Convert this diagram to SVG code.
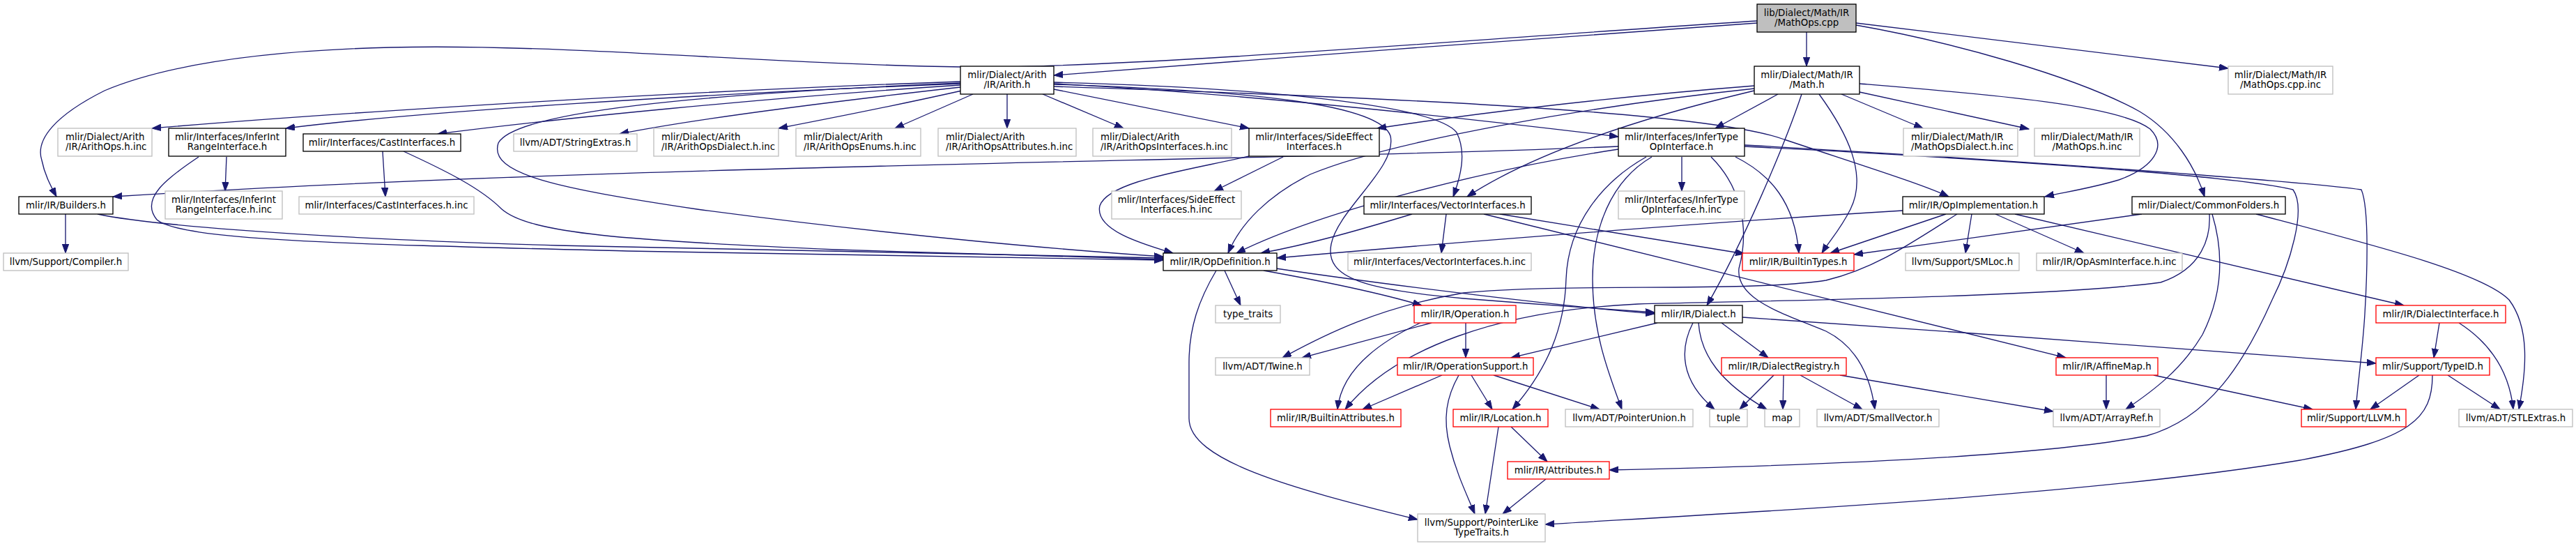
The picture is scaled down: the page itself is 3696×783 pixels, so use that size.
<svg xmlns="http://www.w3.org/2000/svg" width="3696" height="783" viewBox="0 0 3696 783">
<style>
.node rect{stroke-width:1.33}
.doc{fill:#fff;stroke:#000}
.undoc{fill:#fff;stroke:#bfbfbf}
.trunc{fill:#fff;stroke:#ff0000}
.main{fill:#bfbfbf;stroke:#000}
text{font-family:"DejaVu Sans","Liberation Sans",sans-serif;font-size:13.33px;fill:#000}
.c{text-anchor:middle}
.l{text-anchor:start}
#edges path{fill:none;stroke:#191970;stroke-width:1.33;marker-end:url(#arr)}
</style>
<defs>
<marker id="arr" markerUnits="userSpaceOnUse" markerWidth="14" markerHeight="10" refX="13" refY="4.7" orient="auto">
<path d="M0,0 L13,4.7 L0,9.4 z" fill="#191970" stroke="#191970" stroke-width="1"/>
</marker>
</defs>
<rect x="0" y="0" width="3696" height="783" fill="#fff"/>
<g id="edges">
<path d="M2592,46 L2592,95"/>
<path d="M2521,33 C2250,52 1800,85 1512,108"/>
<path d="M2521,30 C2200,50 1600,100 1380,96 C1100,92 800,62 560,68 C400,72 250,88 150,130 C80,165 50,200 60,230 C64,250 72,265 81,282"/>
<path d="M2663,33 L3197,98"/>
<path d="M2663,36 C2800,60 2980,110 3070,160 C3120,190 3150,240 3163,282"/>
<path d="M2668,120 C2850,135 3040,150 3085,185 C3110,210 3090,240 3040,258 C3000,270 2960,276 2934,282"/>
<path d="M2642,135 L2759,184"/>
<path d="M2668,132 L2911,185"/>
<path d="M2610,135 C2650,190 2680,250 2655,300 C2640,330 2625,345 2614,363"/>
<path d="M2585,135 C2560,210 2500,350 2449,438"/>
<path d="M2551,135 L2461,184"/>
<path d="M2517,123 C2300,140 2100,165 1976,184"/>
<path d="M2517,130 C2350,170 2200,220 2105,282"/>
<path d="M2517,127 C2300,150 2000,200 1880,250 C1820,280 1780,320 1762,363"/>
<path d="M1378,117 C1000,130 500,160 218,184"/>
<path d="M1378,120 C1000,135 600,160 410,184"/>
<path d="M1378,122 C1100,140 800,170 628,192"/>
<path d="M1378,125 C1200,145 1000,170 889,192"/>
<path d="M1380,130 C1300,148 1200,168 1117,184"/>
<path d="M1396,135 L1284,184"/>
<path d="M1445,135 L1445,184"/>
<path d="M1496,135 L1612,184"/>
<path d="M1512,128 L1792,184"/>
<path d="M1512,120 C1800,135 2150,175 2322,196"/>
<path d="M1512,118 C1800,125 2060,150 2090,190 C2105,220 2095,255 2085,282"/>
<path d="M1512,124 C2000,140 2450,160 2560,200 C2680,240 2760,265 2796,282"/>
<path d="M1512,121 C1800,130 1980,150 1995,195 C2005,240 1920,300 1910,350 C1900,400 1960,415 2100,428 C2250,440 2330,445 2374,448"/>
<path d="M1378,119 C1000,135 740,160 715,205 C700,250 800,270 1000,300 C1300,340 1550,360 1669,368"/>
<path d="M1792,224 C1700,245 1590,260 1578,295 C1570,330 1640,350 1683,363"/>
<path d="M1841,225 L1742,274"/>
<path d="M325,225 L323,274"/>
<path d="M285,225 C240,255 200,285 225,315 C260,345 500,350 900,360 C1300,368 1550,372 1669,373"/>
<path d="M549,217 L553,282"/>
<path d="M579,217 C640,245 690,270 720,300 C760,335 900,345 1200,358 C1450,366 1600,370 1669,372"/>
<path d="M94,307 L94,363"/>
<path d="M140,307 C200,320 400,340 800,352 C1200,362 1550,368 1669,370"/>
<path d="M1757,388 L1780,438"/>
<path d="M1745,388 C1720,430 1706,470 1706,520 L1706,600 C1706,660 1850,700 2034,745"/>
<path d="M1813,388 C1880,400 1980,420 2040,438"/>
<path d="M1831,385 C2000,410 2250,440 2374,450"/>
<path d="M2103,463 L2103,513"/>
<path d="M2054,463 L1868,513"/>
<path d="M2038,463 C1980,490 1925,530 1919,587"/>
<path d="M2069,538 L1955,587"/>
<path d="M2111,538 L2141,587"/>
<path d="M2143,538 L2295,587"/>
<path d="M2093,538 C2075,570 2070,600 2080,640 C2090,680 2105,710 2116,737"/>
<path d="M2168,612 L2220,662"/>
<path d="M2150,612 L2131,737"/>
<path d="M2218,687 L2156,737"/>
<path d="M2378,463 L2168,513"/>
<path d="M2429,463 C2410,500 2410,545 2460,587"/>
<path d="M2437,463 C2440,510 2470,550 2535,587"/>
<path d="M2470,463 L2537,513"/>
<path d="M2500,455 C2800,475 3200,505 3409,521"/>
<path d="M2545,538 L2496,587"/>
<path d="M2559,538 L2558,587"/>
<path d="M2583,538 L2672,587"/>
<path d="M2640,538 L2946,590"/>
<path d="M3022,538 L3022,587"/>
<path d="M3090,538 L3318,587"/>
<path d="M3500,463 L3492,513"/>
<path d="M3528,463 C3570,490 3600,530 3606,587"/>
<path d="M3471,538 L3401,587"/>
<path d="M3512,538 L3587,587"/>
<path d="M3490,538 C3490,600 3460,630 3300,660 C3000,710 2500,735 2217,752"/>
<path d="M2792,307 L2626,363"/>
<path d="M2829,307 L2820,363"/>
<path d="M2863,307 L2990,363"/>
<path d="M2891,307 L3449,438"/>
<path d="M2730,302 C2400,322 2000,355 1832,370"/>
<path d="M2808,307 C2740,350 2690,385 2620,402 C2500,420 2250,405 2100,420 C1980,440 1900,480 1840,513"/>
<path d="M3073,307 L2660,365"/>
<path d="M3170,307 C3172,340 3160,385 3100,405 C2950,425 2600,430 2350,436 C2150,445 2000,500 1930,587"/>
<path d="M3174,307 C3190,360 3190,420 3160,480 C3130,530 3090,560 3050,587"/>
<path d="M3237,307 C3400,350 3560,390 3600,430 C3630,470 3625,530 3614,587"/>
<path d="M2413,225 L2413,274"/>
<path d="M2322,210 C1800,232 900,235 162,282"/>
<path d="M2322,214 C2150,240 1900,300 1774,363"/>
<path d="M2490,225 C2540,250 2575,290 2581,363"/>
<path d="M2455,225 C2500,270 2510,330 2495,385 C2490,430 2560,450 2620,475 C2670,500 2685,550 2690,587"/>
<path d="M2362,225 C2300,260 2250,320 2247,400 C2245,470 2220,530 2170,587"/>
<path d="M2370,225 C2310,260 2285,330 2285,400 C2285,480 2310,540 2327,587"/>
<path d="M2503,210 C2800,225 3200,250 3290,272 C3310,300 3285,380 3260,430 C3220,520 3170,600 3080,625 C2900,660 2500,670 2309,674"/>
<path d="M2503,208 C2900,230 3300,260 3388,272 C3400,300 3396,400 3393,450 C3390,500 3383,550 3380,587"/>
<path d="M2075,307 L2068,363"/>
<path d="M2026,307 C1950,330 1880,350 1809,363"/>
<path d="M2152,307 L2503,364"/>
<path d="M2129,307 L2964,513"/>
</g>
<g id="n_mathops_cpp" class="node"><rect class="main" x="2521" y="6" width="142" height="40"/><text class="c" x="2592" y="23">lib/Dialect/Math/IR</text><text class="c" x="2592" y="37">/MathOps.cpp</text></g>
<g id="n_arith_h" class="node"><rect class="doc" x="1378" y="95" width="134" height="40"/><text class="c" x="1445" y="112">mlir/Dialect/Arith</text><text class="c" x="1445" y="126">/IR/Arith.h</text></g>
<g id="n_math_h" class="node"><rect class="doc" x="2517" y="95" width="151" height="40"/><text class="c" x="2592.5" y="112">mlir/Dialect/Math/IR</text><text class="c" x="2592.5" y="126">/Math.h</text></g>
<g id="n_mathops_cpp_inc" class="node"><rect class="undoc" x="3197" y="95" width="150" height="40"/><text class="c" x="3272" y="112">mlir/Dialect/Math/IR</text><text class="c" x="3272" y="126">/MathOps.cpp.inc</text></g>
<g id="n_builders" class="node"><rect class="doc" x="27" y="282" width="135" height="25"/><text class="c" x="94.5" y="299">mlir/IR/Builders.h</text></g>
<g id="n_compiler" class="node"><rect class="undoc" x="5" y="363" width="179" height="25"/><text class="c" x="94.5" y="380">llvm/Support/Compiler.h</text></g>
<g id="n_arithops_inc" class="node"><rect class="undoc" x="83" y="184" width="135" height="40"/><text class="l" x="94" y="201">mlir/Dialect/Arith</text><text class="l" x="94" y="215">/IR/ArithOps.h.inc</text></g>
<g id="n_inferintrange" class="node"><rect class="doc" x="242" y="184" width="168" height="40"/><text class="c" x="326" y="201">mlir/Interfaces/InferInt</text><text class="c" x="326" y="215">RangeInterface.h</text></g>
<g id="n_inferintrange_inc" class="node"><rect class="undoc" x="237" y="274" width="168" height="40"/><text class="c" x="321" y="291">mlir/Interfaces/InferInt</text><text class="c" x="321" y="305">RangeInterface.h.inc</text></g>
<g id="n_cast" class="node"><rect class="doc" x="435" y="192" width="226" height="25"/><text class="c" x="548" y="209">mlir/Interfaces/CastInterfaces.h</text></g>
<g id="n_cast_inc" class="node"><rect class="undoc" x="429" y="282" width="251" height="25"/><text class="c" x="554.5" y="299">mlir/Interfaces/CastInterfaces.h.inc</text></g>
<g id="n_stringextras" class="node"><rect class="undoc" x="737" y="192" width="177" height="25"/><text class="c" x="825.5" y="209">llvm/ADT/StringExtras.h</text></g>
<g id="n_arithopsdialect" class="node"><rect class="undoc" x="938" y="184" width="179" height="40"/><text class="l" x="949" y="201">mlir/Dialect/Arith</text><text class="l" x="949" y="215">/IR/ArithOpsDialect.h.inc</text></g>
<g id="n_arithopsenums" class="node"><rect class="undoc" x="1142" y="184" width="179" height="40"/><text class="l" x="1153" y="201">mlir/Dialect/Arith</text><text class="l" x="1153" y="215">/IR/ArithOpsEnums.h.inc</text></g>
<g id="n_arithopsattrs" class="node"><rect class="undoc" x="1346" y="184" width="198" height="40"/><text class="l" x="1357" y="201">mlir/Dialect/Arith</text><text class="l" x="1357" y="215">/IR/ArithOpsAttributes.h.inc</text></g>
<g id="n_arithopsifaces" class="node"><rect class="undoc" x="1568" y="184" width="199" height="40"/><text class="l" x="1579" y="201">mlir/Dialect/Arith</text><text class="l" x="1579" y="215">/IR/ArithOpsInterfaces.h.inc</text></g>
<g id="n_sideeffect" class="node"><rect class="doc" x="1792" y="184" width="187" height="40"/><text class="c" x="1885.5" y="201">mlir/Interfaces/SideEffect</text><text class="c" x="1885.5" y="215">Interfaces.h</text></g>
<g id="n_sideeffect_inc" class="node"><rect class="undoc" x="1595" y="274" width="186" height="40"/><text class="c" x="1688" y="291">mlir/Interfaces/SideEffect</text><text class="c" x="1688" y="305">Interfaces.h.inc</text></g>
<g id="n_opdef" class="node"><rect class="doc" x="1669" y="363" width="163" height="25"/><text class="c" x="1750.5" y="380">mlir/IR/OpDefinition.h</text></g>
<g id="n_infertype" class="node"><rect class="doc" x="2322" y="184" width="181" height="40"/><text class="c" x="2412.5" y="201">mlir/Interfaces/InferType</text><text class="c" x="2412.5" y="215">OpInterface.h</text></g>
<g id="n_infertype_inc" class="node"><rect class="undoc" x="2322" y="274" width="181" height="40"/><text class="c" x="2412.5" y="291">mlir/Interfaces/InferType</text><text class="c" x="2412.5" y="305">OpInterface.h.inc</text></g>
<g id="n_vector" class="node"><rect class="doc" x="1957" y="282" width="240" height="25"/><text class="c" x="2077" y="299">mlir/Interfaces/VectorInterfaces.h</text></g>
<g id="n_vector_inc" class="node"><rect class="undoc" x="1934" y="363" width="263" height="25"/><text class="c" x="2065.5" y="380">mlir/Interfaces/VectorInterfaces.h.inc</text></g>
<g id="n_mathopsdialect" class="node"><rect class="undoc" x="2731" y="184" width="164" height="40"/><text class="l" x="2742" y="201">mlir/Dialect/Math/IR</text><text class="l" x="2742" y="215">/MathOpsDialect.h.inc</text></g>
<g id="n_mathops_inc" class="node"><rect class="undoc" x="2919" y="184" width="151" height="40"/><text class="c" x="2994.5" y="201">mlir/Dialect/Math/IR</text><text class="c" x="2994.5" y="215">/MathOps.h.inc</text></g>
<g id="n_opimpl" class="node"><rect class="doc" x="2730" y="282" width="203" height="25"/><text class="c" x="2831.5" y="299">mlir/IR/OpImplementation.h</text></g>
<g id="n_builtintypes" class="node"><rect class="trunc" x="2500" y="363" width="160" height="25"/><text class="c" x="2580" y="380">mlir/IR/BuiltinTypes.h</text></g>
<g id="n_smloc" class="node"><rect class="undoc" x="2734" y="363" width="163" height="25"/><text class="c" x="2815.5" y="380">llvm/Support/SMLoc.h</text></g>
<g id="n_opasm" class="node"><rect class="undoc" x="2922" y="363" width="209" height="25"/><text class="c" x="3026.5" y="380">mlir/IR/OpAsmInterface.h.inc</text></g>
<g id="n_commonfolders" class="node"><rect class="doc" x="3059" y="282" width="220" height="25"/><text class="c" x="3169" y="299">mlir/Dialect/CommonFolders.h</text></g>
<g id="n_typetraits" class="node"><rect class="undoc" x="1744" y="438" width="93" height="25"/><text class="c" x="1790.5" y="455">type_traits</text></g>
<g id="n_twine" class="node"><rect class="undoc" x="1744" y="513" width="135" height="25"/><text class="c" x="1811.5" y="530">llvm/ADT/Twine.h</text></g>
<g id="n_builtinattr" class="node"><rect class="trunc" x="1823" y="587" width="187" height="25"/><text class="c" x="1916.5" y="604">mlir/IR/BuiltinAttributes.h</text></g>
<g id="n_operation" class="node"><rect class="trunc" x="2029" y="438" width="146" height="25"/><text class="c" x="2102" y="455">mlir/IR/Operation.h</text></g>
<g id="n_opsupport" class="node"><rect class="trunc" x="2005" y="513" width="195" height="25"/><text class="c" x="2102.5" y="530">mlir/IR/OperationSupport.h</text></g>
<g id="n_location" class="node"><rect class="trunc" x="2085" y="587" width="136" height="25"/><text class="c" x="2153" y="604">mlir/IR/Location.h</text></g>
<g id="n_pointerunion" class="node"><rect class="undoc" x="2246" y="587" width="183" height="25"/><text class="c" x="2337.5" y="604">llvm/ADT/PointerUnion.h</text></g>
<g id="n_attributes" class="node"><rect class="trunc" x="2163" y="662" width="146" height="25"/><text class="c" x="2236" y="679">mlir/IR/Attributes.h</text></g>
<g id="n_pointerlike" class="node"><rect class="undoc" x="2034" y="737" width="183" height="40"/><text class="c" x="2125.5" y="754">llvm/Support/PointerLike</text><text class="c" x="2125.5" y="768">TypeTraits.h</text></g>
<g id="n_dialect" class="node"><rect class="doc" x="2374" y="438" width="126" height="25"/><text class="c" x="2437" y="455">mlir/IR/Dialect.h</text></g>
<g id="n_tuple" class="node"><rect class="undoc" x="2453" y="587" width="54" height="25"/><text class="c" x="2480" y="604">tuple</text></g>
<g id="n_dialectregistry" class="node"><rect class="trunc" x="2470" y="513" width="179" height="25"/><text class="c" x="2559.5" y="530">mlir/IR/DialectRegistry.h</text></g>
<g id="n_map" class="node"><rect class="undoc" x="2532" y="587" width="50" height="25"/><text class="c" x="2557" y="604">map</text></g>
<g id="n_smallvector" class="node"><rect class="undoc" x="2607" y="587" width="175" height="25"/><text class="c" x="2694.5" y="604">llvm/ADT/SmallVector.h</text></g>
<g id="n_affinemap" class="node"><rect class="trunc" x="2950" y="513" width="146" height="25"/><text class="c" x="3023" y="530">mlir/IR/AffineMap.h</text></g>
<g id="n_arrayref" class="node"><rect class="undoc" x="2946" y="587" width="153" height="25"/><text class="c" x="3022.5" y="604">llvm/ADT/ArrayRef.h</text></g>
<g id="n_dialectiface" class="node"><rect class="trunc" x="3409" y="438" width="186" height="25"/><text class="c" x="3502" y="455">mlir/IR/DialectInterface.h</text></g>
<g id="n_typeid" class="node"><rect class="trunc" x="3409" y="513" width="163" height="25"/><text class="c" x="3490.5" y="530">mlir/Support/TypeID.h</text></g>
<g id="n_llvm" class="node"><rect class="trunc" x="3302" y="587" width="150" height="25"/><text class="c" x="3377" y="604">mlir/Support/LLVM.h</text></g>
<g id="n_stlextras" class="node"><rect class="undoc" x="3528" y="587" width="163" height="25"/><text class="c" x="3609.5" y="604">llvm/ADT/STLExtras.h</text></g>
</svg>
